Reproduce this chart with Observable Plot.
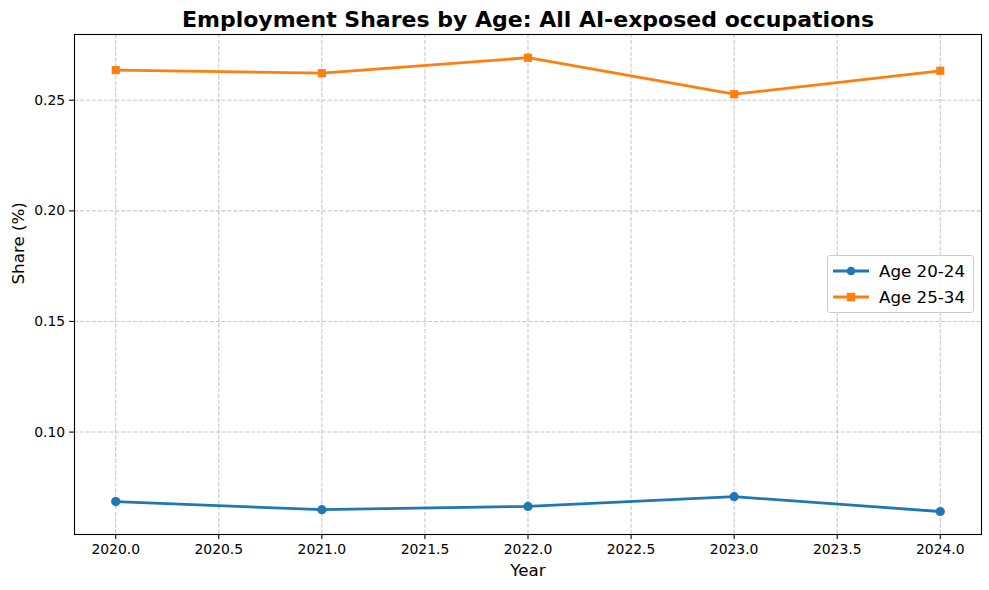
<!DOCTYPE html>
<html>
<head>
<meta charset="utf-8">
<script src="https://cdn.jsdelivr.net/npm/d3@7"></script>
<script src="https://cdn.jsdelivr.net/npm/@observablehq/plot@0.6"></script>
<style>
  html, body { margin: 0; padding: 0; background: #fff; }
  #wrap { position: relative; width: 989px; height: 590px; font-family: "DejaVu Sans", sans-serif; }
  #legend { position: absolute; left: 827px; top: 255px; width: 147px; height: 58px;
    box-sizing: border-box; border: 1px solid #cccccc; border-radius: 3px; background: rgba(255,255,255,0.8); }
  #legend .row { position: absolute; left: 0; height: 20px; display: flex; align-items: center; }
  #legend span { font-size: 16.7px; color: #000; margin-left: 9px; white-space: nowrap; }
</style>
</head>
<body>
<div id="wrap"></div>
<script>
const years = [2020, 2021, 2022, 2023, 2024];
const age2024 = [0.0686, 0.0649, 0.0664, 0.0708, 0.0641];
const age2534 = [0.2636, 0.2622, 0.2692, 0.2527, 0.2633];
const seriesNames = ["Age 20-24", "Age 25-34"];
const seriesColors = ["#1f77b4", "#ff7f0e"];
const seriesSymbols = ["circle", "square"];
const xTicks = [2020, 2020.5, 2021, 2021.5, 2022, 2022.5, 2023, 2023.5, 2024];
const yTicks = [0.10, 0.15, 0.20, 0.25];
const titleText = "Employment Shares by Age: All AI-exposed occupations";
const xLabel = "Year";
const yLabel = "Share (%)";

const data = [];
years.forEach((y, i) => {
  data.push({year: y, share: age2024[i], series: seriesNames[0]});
  data.push({year: y, share: age2534[i], series: seriesNames[1]});
});

const gridStyle = {stroke: "#b0b0b0", strokeOpacity: 0.7, strokeDasharray: "4.1,1.8", strokeWidth: 1.1};

const chart = Plot.plot({
  width: 989,
  height: 590,
  marginLeft: 74,
  marginRight: 8,
  marginTop: 34,
  marginBottom: 56,
  style: {fontFamily: "DejaVu Sans, sans-serif", fontSize: "13.9px", color: "#000", background: "#fff"},
  x: {domain: [2019.8, 2024.2]},
  y: {domain: [0.0537, 0.2797]},
  color: {domain: seriesNames, range: seriesColors},
  symbol: {domain: seriesNames, range: seriesSymbols},
  marks: [
    Plot.gridX(xTicks, gridStyle),
    Plot.gridY(yTicks, gridStyle),
    Plot.axisX(xTicks, {tickFormat: d3.format(".1f"), tickSize: 4.9, tickPadding: 4.5, label: null, strokeWidth: 1.1, fontSize: 13.9}),
    Plot.axisY(yTicks, {tickFormat: d3.format(".2f"), tickSize: 4.9, tickPadding: 4.5, label: null, strokeWidth: 1.1, fontSize: 13.9}),
    Plot.line(data, {x: "year", y: "share", stroke: "series", strokeWidth: 2.78}),
    Plot.dot(data, {x: "year", y: "share", fill: "series", symbol: "series", r: 4.6, stroke: "none"}),
    Plot.frame({stroke: "#000", strokeWidth: 1.1}),
    Plot.text([titleText], {frameAnchor: "top", dy: -15, fontSize: 22, fontWeight: "bold", lineAnchor: "middle"}),
    Plot.text([xLabel], {frameAnchor: "bottom", dy: 36, fontSize: 16.7, lineAnchor: "middle"}),
    Plot.text([yLabel], {frameAnchor: "left", dx: -56, rotate: -90, fontSize: 16.7, lineAnchor: "middle"})
  ]
});

const wrap = document.getElementById("wrap");
wrap.appendChild(chart);

// legend
const legend = document.createElement("div");
legend.id = "legend";
const rowTops = [5, 31];
seriesNames.forEach((name, i) => {
  const row = document.createElement("div");
  row.className = "row";
  row.style.top = rowTops[i] + "px";
  const svg = d3.create("svg").attr("width", 42).attr("height", 20);
  svg.append("line").attr("x1", 5).attr("x2", 41).attr("y1", 10).attr("y2", 10)
    .attr("stroke", seriesColors[i]).attr("stroke-width", 2.78);
  if (seriesSymbols[i] === "circle") {
    svg.append("circle").attr("cx", 23).attr("cy", 10).attr("r", 4.3).attr("fill", seriesColors[i]);
  } else {
    svg.append("rect").attr("x", 23 - 4.2).attr("y", 10 - 4.2).attr("width", 8.4).attr("height", 8.4).attr("fill", seriesColors[i]);
  }
  row.appendChild(svg.node());
  const sp = document.createElement("span");
  sp.textContent = name;
  row.appendChild(sp);
  legend.appendChild(row);
});
wrap.appendChild(legend);
</script>
</body>
</html>
